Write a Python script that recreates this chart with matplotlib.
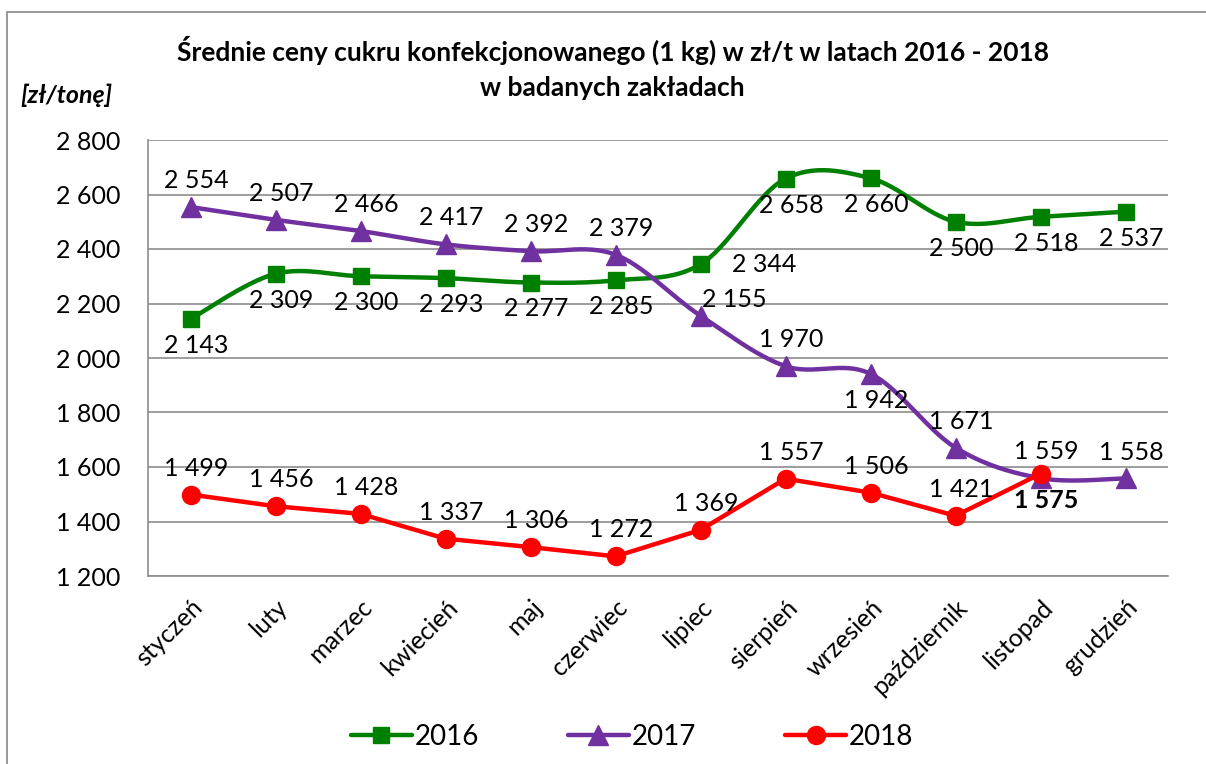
import numpy as np
import matplotlib
matplotlib.use("Agg")
import matplotlib.pyplot as plt
from matplotlib.patches import Rectangle

plt.rcParams["font.family"] = ["Lato", "DejaVu Sans"]

months = ["styczeń", "luty", "marzec", "kwiecień", "maj", "czerwiec",
          "lipiec", "sierpień", "wrzesień", "październik", "listopad", "grudzień"]
y2016 = [2143, 2309, 2300, 2293, 2277, 2285, 2344, 2658, 2660, 2500, 2518, 2537]
y2017 = [2554, 2507, 2466, 2417, 2392, 2379, 2155, 1970, 1942, 1671, 1559, 1558]
y2018 = [1499, 1456, 1428, 1337, 1306, 1272, 1369, 1557, 1506, 1421, 1575]

# label placement per point
pos2016 = ["b"] * 12
pos2016[6] = "r"
pos2017 = ["a"] * 12
pos2017[6] = "ar"
pos2017[8] = "b"
pos2018 = ["a"] * 11
pos2018[10] = "b"

OFFS = {"a": (4, 19), "b": (4, -19), "r": (46, 0), "ar": (24, 12)}


def smooth(xs, ys, n=30):
    """Excel-like smoothed line: cubic Bezier with Catmull-Rom controls."""
    p = np.column_stack([xs, ys]).astype(float)
    out = []
    for i in range(len(p) - 1):
        p0 = p[i - 1] if i > 0 else p[i]
        p1, p2 = p[i], p[i + 1]
        p3 = p[i + 2] if i + 2 < len(p) else p[i + 1]
        c1 = p1 + (p2 - p0) / 6.0
        c2 = p2 - (p3 - p1) / 6.0
        t = np.linspace(0, 1, n)[:, None]
        seg = ((1 - t) ** 3) * p1 + 3 * ((1 - t) ** 2) * t * c1 \
            + 3 * (1 - t) * t ** 2 * c2 + t ** 3 * p2
        out.append(seg if i == 0 else seg[1:])
    s = np.vstack(out)
    return s[:, 0], s[:, 1]


def fmt(v):
    return f"{v:,}".replace(",", " ")


fig = plt.figure(figsize=(12.06, 7.64), dpi=100)
fig.patches.append(Rectangle((7 / 1206, -0.01), 1.02, 1 - 12 / 764 + 0.01,
                             transform=fig.transFigure, fill=False,
                             edgecolor="#888888", lw=1.2))
ax = fig.add_axes([148 / 1206, 1 - 576 / 764, 1020 / 1206, 436 / 764])

x = np.arange(len(months))
series = [
    ("2016", y2016, "#008000", "s", 12, True, pos2016),
    ("2017", y2017, "#7030A0", "^", 14, True, pos2017),
    ("2018", y2018, "#FF0000", "o", 13, False, pos2018),
]
for name, ys, col, mk, ms, sm, poss in series:
    xx = x[:len(ys)]
    if sm:
        sx, sy = smooth(xx, ys)
    else:
        sx, sy = xx, ys
    ax.plot(sx, sy, color=col, lw=3.2, zorder=3, solid_capstyle="round")
    ax.plot(xx, ys, ls="none", marker=mk, ms=ms, color=col, zorder=4)
    ax.plot([], [], color=col, lw=3.2, marker=mk, ms=ms, label=name,
            solid_capstyle="round")
    for xi, yi, p in zip(xx, ys, poss):
        dx, dy = OFFS[p]
        bold = (name == "2018" and xi == 10)
        ax.annotate(fmt(yi), (xi, yi), xytext=(dx, dy),
                    textcoords="offset points", ha="center", va="center",
                    fontsize=18, fontweight="bold" if bold else "normal",
                    zorder=5)

ax.set_xlim(-0.5, 11.5)
ax.set_ylim(1200, 2800)
ax.set_yticks(np.arange(1200, 2801, 200))
ax.set_yticklabels([fmt(v) for v in range(1200, 2801, 200)], fontsize=18)
ax.set_xticks(x)
ax.set_xticklabels(months, rotation=45, ha="right", rotation_mode="anchor",
                   fontsize=18)
ax.tick_params(length=0, pad=20)
ax.tick_params(axis="x", pad=14)
ax.grid(axis="y", color="#8c8c8c", lw=1.2)
ax.set_axisbelow(True)
for s in ["top", "right"]:
    ax.spines[s].set_visible(False)
for s in ["left", "bottom"]:
    ax.spines[s].set_color("#8c8c8c")
    ax.spines[s].set_linewidth(1.2)

fig.text(0.508, 1 - 50 / 764,
         "Średnie ceny cukru konfekcjonowanego (1 kg) w zł/t w latach 2016 - 2018",
         ha="center", va="center", fontsize=19, fontweight="bold")
fig.text(0.508, 1 - 88 / 764, "w badanych zakładach",
         ha="center", va="center", fontsize=19, fontweight="bold")
fig.text(20 / 1206, 1 - 95 / 764, "[zł/tonę]", ha="left", va="center",
         fontsize=18, fontweight="bold", style="italic")

fig.legend(loc="center", bbox_to_anchor=(0.524, 1 - 737 / 764), ncol=3,
           frameon=False, fontsize=20, handlelength=2.2, handletextpad=0.1,
           columnspacing=3.2)

fig.savefig("out.png", dpi=100)
